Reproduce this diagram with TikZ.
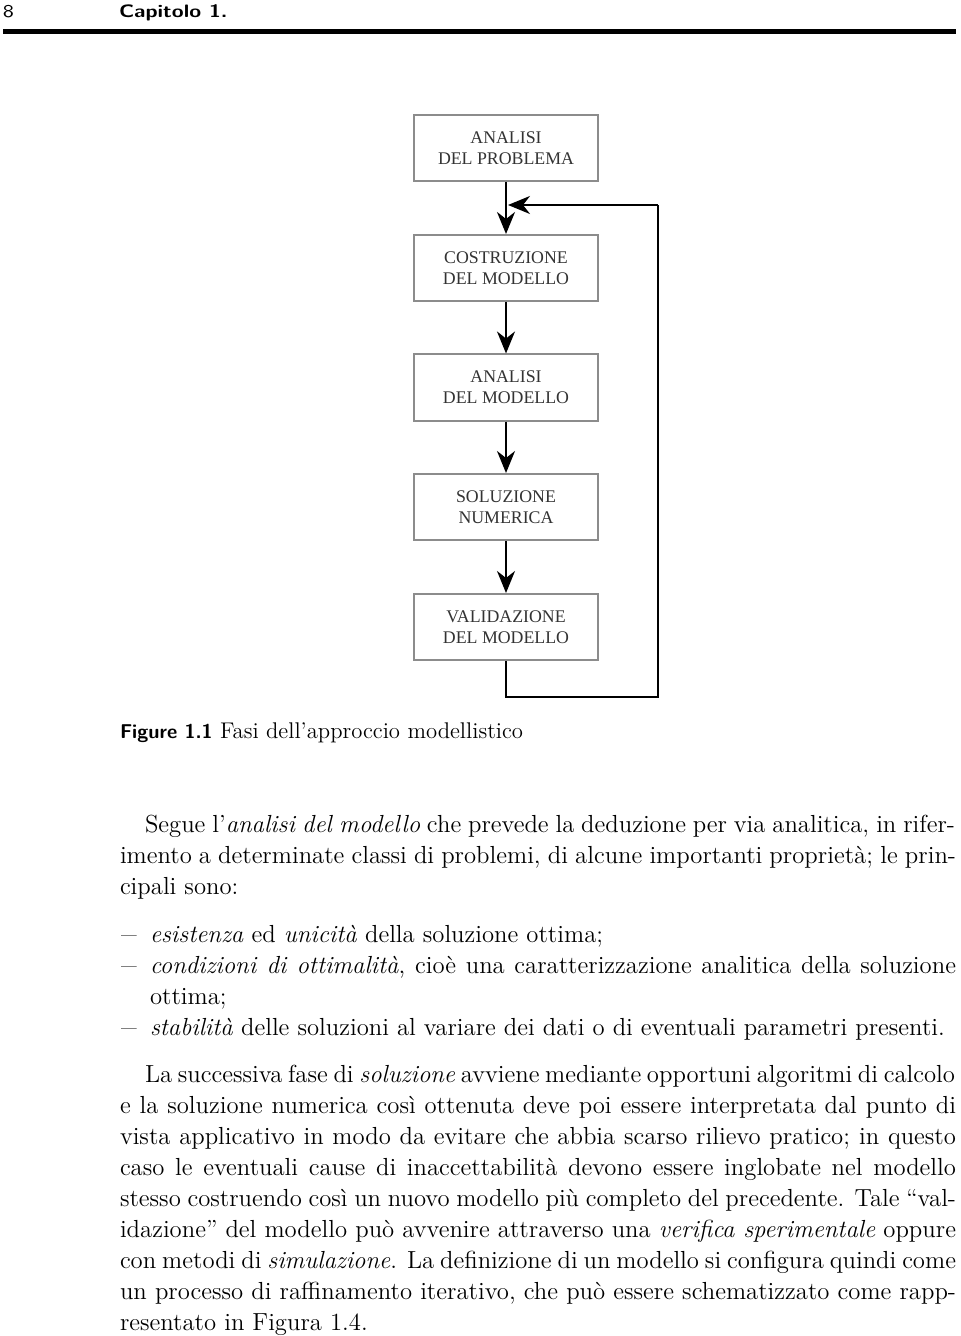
\documentclass[tikz,border=0pt]{standalone}
\usepackage{fontspec}
\newfontfamily\boxfont{Liberation Serif}
\usetikzlibrary{arrows.meta}
\newcommand{\sx}{1.0}
\newcommand{\jl}[2]{\scalebox{\sx}[1]{\makebox[#1][s]{#2}}}
\newcommand{\nl}[1]{\scalebox{\sx}[1]{#1}}
\newcommand{\ldash}{\scalebox{1.3}[1]{–}}
\begin{document}
\begin{tikzpicture}[x=0.5pt,y=-0.5pt,
  stage/.style={draw=black!45,line width=1pt,minimum width=92pt,minimum height=33pt,
    inner sep=0pt,align=center,font=\boxfont\fontsize{8.9}{10.5}\selectfont,text=black!80},
  arr/.style={line width=1pt,-{Stealth[length=11pt,width=9pt,inset=3.5pt]}},
  fb/.style={line width=1pt},
  txt/.style={anchor=base west,inner sep=0pt,outer sep=0pt,font=\fontsize{12.35}{15.5}\selectfont},
  hdr/.style={anchor=base west,inner sep=0pt,outer sep=0pt,font=\sffamily\fontsize{9}{11}\selectfont}]
\useasboundingbox (0,0) rectangle (960,1336);
\fill[white] (0,0) rectangle (960,1336);
% header
\node[hdr] (pg) at (3,18) {\scalebox{1.2}[1]{8}};
\node[hdr] (chap) at (119,18) {\scalebox{1.2}[1]{\bfseries Capitolo 1.}};
\fill[black] (3,29.5) rectangle (956,34.5);
% diagram
\node[stage] (b1) at (506,148) {ANALISI\\DEL PROBLEMA};
\node[stage] (b2) at (506,268) {COSTRUZIONE\\DEL MODELLO};
\node[stage] (b3) at (506,387.5) {ANALISI\\DEL MODELLO};
\node[stage] (b4) at (506,507) {SOLUZIONE\\NUMERICA};
\node[stage] (b5) at (506,627) {VALIDAZIONE\\DEL MODELLO};
\draw[arr] (b1) -- (b2);
\draw[arr] (b2) -- (b3);
\draw[arr] (b3) -- (b4);
\draw[arr] (b4) -- (b5);
\coordinate (f1) at (506,697);
\coordinate (f2) at (658,697);
\coordinate (f3) at (658,205);
\coordinate (f4) at (508,205);
\draw[fb] (b5.south) -- (f1) -- (f2) -- (f3);
\draw[arr] (f3) -- (f4);
% caption
\node[hdr,font=\sffamily\bfseries\fontsize{10}{12}\selectfont] (figl) at (120,738) {Figure 1.1};
\node[txt,font=\fontsize{11.35}{13}\selectfont] (figc) at (220,738) {Fasi dell’approccio modellistico};
% paragraph 1
\node[txt] (p1a) at (145,832) {\jl{405pt}{Segue l’\textit{analisi del modello} che prevede la deduzione per via analitica, in rifer-}};
\node[txt] (p1b) at (120,863) {\jl{418pt}{imento a determinate classi di problemi, di alcune importanti proprietà; le prin-}};
\node[txt] (p1c) at (120,894) {\nl{cipali sono:}};
% list
\node[txt] (d1) at (121,942) {\ldash};
\node[txt] (l1) at (150,942) {\nl{\textit{esistenza} ed \textit{unicità} della soluzione ottima;}};
\node[txt] (d2) at (121,973) {\ldash};
\node[txt] (l2a) at (150,973) {\jl{403pt}{\textit{condizioni di ottimalità}, cioè una caratterizzazione analitica della soluzione}};
\node[txt] (l2b) at (150,1004) {\nl{ottima;}};
\node[txt] (d3) at (121,1035) {\ldash};
\node[txt] (l3) at (150,1035) {\nl{\textit{stabilità} delle soluzioni al variare dei dati o di eventuali parametri presenti.}};
% paragraph 2
\node[txt] (q1) at (145,1082) {\jl{405pt}{La successiva fase di \textit{soluzione} avviene mediante opportuni algoritmi di calcolo}};
\node[txt] (q2) at (120,1113) {\jl{418pt}{e la soluzione numerica così ottenuta deve poi essere interpretata dal punto di}};
\node[txt] (q3) at (120,1144) {\jl{418pt}{vista applicativo in modo da evitare che abbia scarso rilievo pratico; in questo}};
\node[txt] (q4) at (120,1175) {\jl{418pt}{caso le eventuali cause di inaccettabilità devono essere inglobate nel modello}};
\node[txt] (q5) at (120,1206) {\jl{418pt}{stesso costruendo così un nuovo modello più completo del precedente. Tale “val-}};
\node[txt] (q6) at (120,1237) {\jl{418pt}{idazione” del modello può avvenire attraverso una \textit{verifica sperimentale}\ oppure}};
\node[txt] (q7) at (120,1268) {\jl{418pt}{con metodi di \textit{simulazione}. La definizione di un modello si configura quindi come}};
\node[txt] (q8) at (120,1299) {\jl{418pt}{un processo di raffinamento iterativo, che può essere schematizzato come rapp-}};
\node[txt] (q9) at (120,1330) {\nl{resentato in Figura 1.4.}};
\end{tikzpicture}
\end{document}
